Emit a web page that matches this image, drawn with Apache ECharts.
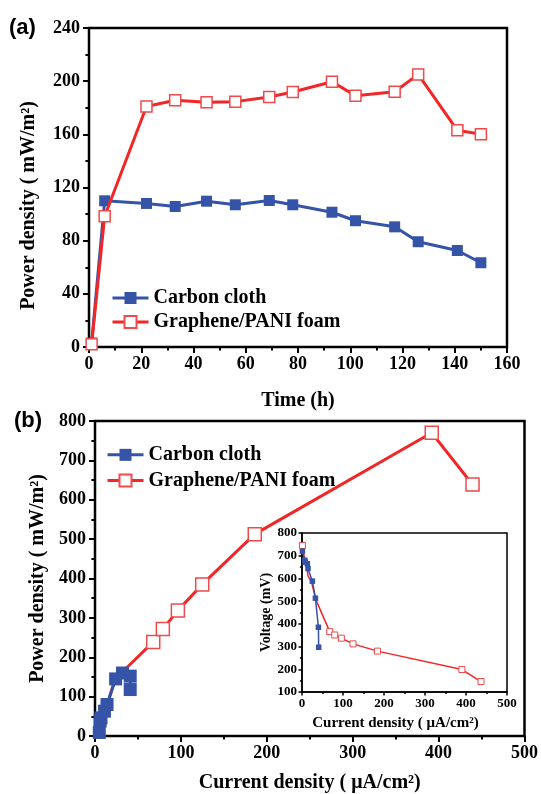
<!DOCTYPE html>
<html><head><meta charset="utf-8">
<script src="https://cdn.jsdelivr.net/npm/echarts@6/dist/echarts.min.js"></script>
<style>html,body{margin:0;padding:0;background:#fff}#c{width:541px;height:794px}</style>
</head><body><div id="c"></div>
<script>
// ---- Panel (a): power density vs time ----
const timeH = [1, 6, 22, 33, 45, 56, 69, 78, 93, 102, 117, 126, 141, 150];
const carbonPowerA = [3, 110, 108, 105.7, 109.7, 107, 110.2, 107, 101.4, 95, 90.4, 79.2, 72.6, 63.4];
const graphenePowerA = [2, 98.4, 181, 185.6, 184.1, 184.6, 188.1, 191.9, 199.6, 189.1, 192.1, 205.1, 163, 160];
// ---- Panel (b): power density vs current density ----
const carbonCurrentB = [5, 6, 7, 11, 14, 24, 32, 41, 41];
const carbonPowerB = [9, 38, 46, 63, 80, 145, 160, 152, 118];
const grapheneCurrentB = [1, 5, 10, 15, 22, 33, 67.8, 79, 96.5, 124.8, 186, 392, 439.5];
const graphenePowerB = [1, 25, 55, 85, 135, 165, 239, 271.5, 319, 385, 512.6, 770, 638.6];
// ---- Inset: voltage vs current density ----
const carbonCurrentIn = [1, 6.7, 8, 13, 14.6, 25.3, 32.7, 40, 40.7];
const carbonVoltIn = [720, 680, 672, 665, 644, 588, 513, 385, 297];
const grapheneCurrentIn = [1, 5, 10, 15, 24, 33, 67.6, 79.8, 96, 124.4, 184, 390, 436.6];
const grapheneVoltIn = [745, 700, 660, 610, 580, 510, 366, 351, 337, 312, 280, 199, 146];

const names = ['Carbon cloth', 'Graphene/PANI foam'];
const BLUE = '#3553a7', RED = '#f22626', REDM = '#f04a4a';
const SERIF = '"Liberation Serif", "Times New Roman", serif';
const zip = (a, b) => a.map((v, i) => [v, b[i]]);
// points hidden beneath the carbon-cloth markers are drawn without a symbol
const zipHidden = (a, b, keep) => a.map((v, i) => (keep(i, v) ? [v, b[i]] : {value: [v, b[i]], symbol: 'none'}));

function axis(o) {
  const lw = o.lw || 2;
  return Object.assign({
    type: 'value', gridIndex: o.g, min: o.min, max: o.max, interval: o.interval,
    name: o.name, nameLocation: 'middle', nameGap: o.nameGap,
    nameTextStyle: Object.assign({fontFamily: SERIF, fontWeight: 'bold', fontSize: o.nameSize, color: '#000'}, o.nameStyle || {}),
    axisLine: {show: true, onZero: false, lineStyle: {color: '#000', width: lw}},
    axisTick: {show: true, inside: false, length: o.tickLen || 6, lineStyle: {color: '#000', width: lw}},
    minorTick: {show: true, splitNumber: 2, length: (o.tickLen || 6) * 0.6, lineStyle: {color: '#000', width: lw}},
    splitLine: {show: false},
    axisLabel: {fontFamily: SERIF, fontWeight: 'bold', fontSize: o.labelSize, color: '#000', margin: o.margin},
  }, o.extra || {});
}

const chart = echarts.init(document.getElementById('c'), null, {renderer: 'canvas'});
chart.setOption({
  animation: false,
  backgroundColor: '#fff',
  grid: [
    {left: 89, top: 28, width: 418, height: 319, show: true, borderColor: '#000', borderWidth: 2.5, backgroundColor: 'transparent'},
    {left: 95, top: 421, width: 431, height: 318, show: true, borderColor: '#000', borderWidth: 2.5, backgroundColor: 'transparent'},
    {left: 302, top: 533, width: 205, height: 159, show: true, borderColor: '#000', borderWidth: 1.5, backgroundColor: '#fff', z: 5}
  ],
  xAxis: [
    axis({g: 0, min: 0, max: 160, interval: 20, name: 'Time (h)', nameGap: 44, nameSize: 20, labelSize: 18, margin: 8}),
    axis({g: 1, min: 0, max: 500, interval: 100, name: 'Current density ( \u03bcA/cm\u00b2)', nameGap: 37, nameSize: 20, labelSize: 18, margin: 8}),
    axis({g: 2, min: 0, max: 500, interval: 100, name: 'Current density ( \u03bcA/cm\u00b2)', nameGap: 24, nameSize: 15, labelSize: 13, margin: 5, lw: 1.5, tickLen: 3.5,
          nameStyle: {padding: [0, 18, 0, 0]}, extra: {z: 6}})
  ],
  yAxis: [
    axis({g: 0, min: 0, max: 240, interval: 40, name: 'Power density ( mW/m\u00b2)', nameGap: 50, nameSize: 20, labelSize: 18, margin: 9, nameStyle: {padding: [0, 36, 0, 0]}}),
    axis({g: 1, min: 0, max: 800, interval: 100, name: 'Power density ( mW/m\u00b2)', nameGap: 47, nameSize: 20, labelSize: 18, margin: 9}),
    axis({g: 2, min: 100, max: 800, interval: 100, name: 'Voltage (mV)', nameGap: 29, nameSize: 14, labelSize: 13, margin: 5, lw: 1.5, tickLen: 3.5, extra: {z: 6}})
  ],
  legend: [
    {data: names, orient: 'vertical', left: 111, top: 286, padding: 0, itemGap: 0, itemWidth: 36, itemHeight: 15,
     lineStyle: {width: 3},
     textStyle: {fontFamily: SERIF, fontWeight: 'bold', fontSize: 20, color: '#000', lineHeight: 24}, selectedMode: false},
    {data: names, orient: 'vertical', left: 106, top: 442, padding: 0, itemGap: 0, itemWidth: 36, itemHeight: 15,
     lineStyle: {width: 3},
     textStyle: {fontFamily: SERIF, fontWeight: 'bold', fontSize: 20, color: '#000', lineHeight: 25.7}, selectedMode: false}
  ],
  graphic: [
    {type: 'text', left: 9, top: 17, style: {text: '(a)', font: 'bold 22px "Liberation Sans", Arial, sans-serif', fill: '#000'}},
    {type: 'text', left: 14, top: 410, style: {text: '(b)', font: 'bold 22px "Liberation Sans", Arial, sans-serif', fill: '#000'}}
  ],
  series: [
    {name: names[0], type: 'line', xAxisIndex: 0, yAxisIndex: 0, data: zip(timeH, carbonPowerA),
     symbol: 'rect', symbolSize: 11, lineStyle: {color: BLUE, width: 3}, itemStyle: {color: BLUE, borderColor: BLUE, borderWidth: 0}, z: 3},
    {name: names[1], type: 'line', xAxisIndex: 0, yAxisIndex: 0, data: zip(timeH, graphenePowerA),
     symbol: 'rect', symbolSize: 11, lineStyle: {color: RED, width: 3}, itemStyle: {color: '#fff', borderColor: REDM, borderWidth: 1.5}, z: 4, clip: false},
    {name: names[1], type: 'line', xAxisIndex: 1, yAxisIndex: 1, data: zipHidden(grapheneCurrentB, graphenePowerB, (i, x) => x > 50),
     symbol: 'rect', symbolSize: 13, lineStyle: {color: RED, width: 3}, itemStyle: {color: '#fff', borderColor: REDM, borderWidth: 1.5}, z: 3},
    {name: names[0], type: 'line', xAxisIndex: 1, yAxisIndex: 1, data: zip(carbonCurrentB, carbonPowerB),
     symbol: 'rect', symbolSize: 13, lineStyle: {color: BLUE, width: 3}, itemStyle: {color: BLUE, borderColor: BLUE, borderWidth: 0}, z: 4, clip: false},
    {name: names[1], type: 'line', xAxisIndex: 2, yAxisIndex: 2, data: zipHidden(grapheneCurrentIn, grapheneVoltIn, (i, x) => i === 0 || x > 50),
     symbol: 'rect', symbolSize: 6, lineStyle: {color: RED, width: 1.5}, itemStyle: {color: '#fff', borderColor: REDM, borderWidth: 1}, z: 7, clip: false},
    {name: names[0], type: 'line', xAxisIndex: 2, yAxisIndex: 2, data: zip(carbonCurrentIn, carbonVoltIn),
     symbol: 'rect', symbolSize: 5.5, lineStyle: {color: BLUE, width: 1.5}, itemStyle: {color: BLUE, borderWidth: 0}, z: 8, clip: false}
  ]
});
</script></body></html>
